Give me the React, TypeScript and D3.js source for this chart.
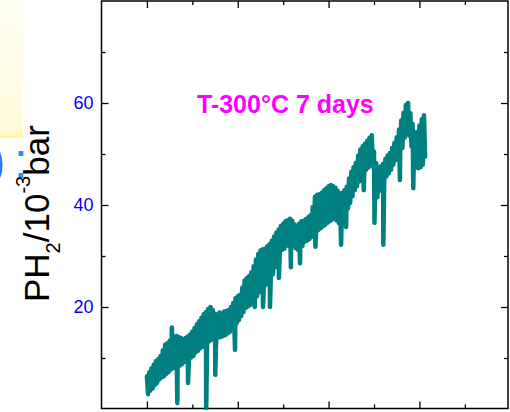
import { useEffect, useRef } from "react";
import * as d3 from "d3";

// time (days) and PH2 (10^-3 bar)
const days = [
  0.0, 0.025, 0.05, 0.075, 0.1, 0.125, 0.15, 0.175, 0.2, 0.225,
  0.25, 0.275, 0.3, 0.325, 0.35, 0.375, 0.4, 0.425, 0.45, 0.475,
  0.5, 0.525, 0.55, 0.575, 0.6, 0.625, 0.65, 0.67, 0.675, 0.7, 0.725,
  0.75, 0.775, 0.8, 0.825, 0.85, 0.875, 0.9, 0.905, 0.925, 0.95, 0.975,
  1.0, 1.025, 1.05, 1.075, 1.1, 1.125, 1.15, 1.175, 1.2, 1.225,
  1.25, 1.275, 1.3, 1.305, 1.325, 1.35, 1.375, 1.4, 1.425, 1.45, 1.475,
  1.5, 1.505, 1.525, 1.55, 1.575, 1.6, 1.625, 1.65, 1.675, 1.7, 1.725,
  1.75, 1.775, 1.8, 1.825, 1.85, 1.875, 1.9, 1.925, 1.94, 1.95, 1.975,
  2.0, 2.025, 2.05, 2.075, 2.1, 2.125, 2.15, 2.175, 2.2, 2.225,
  2.25, 2.275, 2.3, 2.325, 2.35, 2.375, 2.4, 2.425, 2.45, 2.475,
  2.5, 2.525, 2.55, 2.555, 2.575, 2.6, 2.625, 2.65, 2.675, 2.7, 2.71, 2.725,
  2.75, 2.775, 2.8, 2.825, 2.85, 2.875, 2.9, 2.905, 2.925, 2.95, 2.975,
  3.0, 3.025, 3.05, 3.075, 3.1, 3.125, 3.15, 3.17, 3.175, 3.2, 3.225,
  3.25, 3.275, 3.3, 3.325, 3.35, 3.37, 3.375, 3.4, 3.425, 3.45, 3.475,
  3.5, 3.525, 3.55, 3.575, 3.6, 3.625, 3.65, 3.675, 3.7, 3.71, 3.725,
  3.75, 3.775, 3.8, 3.825, 3.85, 3.875, 3.9, 3.925, 3.95, 3.975,
  4.0, 4.025, 4.05, 4.075, 4.1, 4.125, 4.15, 4.175, 4.2, 4.225,
  4.25, 4.275, 4.3, 4.325, 4.35, 4.375, 4.385, 4.4, 4.425, 4.45, 4.475,
  4.5, 4.525, 4.55, 4.575, 4.6, 4.625, 4.65, 4.675, 4.7, 4.725,
  4.75, 4.775, 4.8, 4.825, 4.85, 4.875, 4.9, 4.925, 4.95, 4.975,
  5.0, 5.01, 5.025, 5.05, 5.075, 5.1, 5.125, 5.15, 5.175, 5.2, 5.205, 5.225,
  5.25, 5.275, 5.3, 5.325, 5.35, 5.375, 5.4, 5.425, 5.45, 5.475,
  5.5, 5.525, 5.55, 5.57, 5.575, 5.6, 5.625, 5.65, 5.675, 5.7, 5.725,
  5.75, 5.775, 5.8, 5.825, 5.85, 5.865, 5.875, 5.9, 5.925, 5.95, 5.975,
  6.0, 6.025, 6.05, 6.075, 6.1, 6.125,
];
const ph2 = [
  6.4, 2.9, 7.2, 3.6, 8.0, 4.0, 8.7, 4.7, 9.4, 5.1,
  9.8, 5.8, 10.4, 6.2, 11.5, 6.4, 12.6, 6.9, 12.9, 7.2,
  13.4, 7.7, 16.0, 8.0, 14.0, 8.1, 14.3, 1.2, 8.3, 14.1, 8.5,
  13.9, 8.8, 13.6, 9.2, 13.9, 9.5, 14.2, 5.1, 9.7, 14.6, 10.1,
  15.2, 10.4, 15.9, 11.1, 16.6, 11.4, 17.2, 11.9, 17.9, 12.2,
  18.6, 12.4, 19.0, 0.2, 12.8, 19.6, 13.3, 20.0, 13.6, 19.4, 13.8,
  18.7, 6.7, 13.9, 18.5, 14.0, 18.9, 14.1, 18.7, 14.3, 19.1, 14.5,
  19.2, 14.8, 19.4, 15.1, 20.0, 15.6, 20.8, 16.1, 11.6, 21.7, 16.8,
  22.1, 17.4, 22.4, 18.2, 23.8, 19.0, 25.2, 19.8, 25.7, 20.1,
  26.1, 20.4, 26.8, 20.8, 28.0, 20.0, 29.3, 22.1, 30.4, 22.9,
  31.1, 23.4, 31.3, 20.0, 23.9, 31.4, 24.4, 31.9, 24.8, 32.3, 20.0, 25.5,
  33.0, 26.4, 33.8, 27.8, 34.6, 29.0, 35.2, 25.7, 30.6, 35.9, 31.2,
  36.3, 31.4, 36.8, 32.0, 37.0, 32.5, 37.3, 27.8, 32.8, 36.9, 32.2,
  36.2, 31.5, 35.4, 31.2, 36.3, 28.6, 31.3, 36.8, 32.0, 36.9, 32.8,
  37.2, 33.0, 37.6, 33.3, 38.0, 33.7, 39.6, 34.2, 41.6, 31.8, 34.8,
  42.0, 35.1, 42.1, 35.4, 42.4, 35.8, 42.9, 36.1, 43.3, 36.5,
  43.7, 36.8, 43.9, 37.1, 43.7, 37.4, 43.4, 37.0, 42.8, 36.5,
  42.2, 32.2, 42.4, 37.4, 42.9, 38.6, 35.7, 43.6, 39.3, 45.2, 40.4,
  46.5, 41.7, 47.4, 42.9, 48.3, 43.7, 49.7, 44.6, 50.9, 45.5,
  51.5, 42.9, 52.0, 46.9, 52.6, 47.3, 53.2, 47.9, 53.7, 47.5,
  50.5, 36.5, 44.2, 48.2, 41.5, 47.0, 42.8, 47.6, 43.7, 48.1, 32.2, 44.9,
  49.0, 45.6, 49.7, 46.2, 50.2, 46.9, 51.2, 47.9, 52.2, 48.8,
  53.3, 49.2, 54.8, 44.9, 49.8, 56.6, 51.2, 58.1, 53.2, 59.6, 54.2,
  60.0, 53.6, 58.0, 51.5, 55.9, 43.3, 48.8, 54.2, 47.4, 54.3, 47.2,
  55.6, 47.4, 56.8, 47.9, 57.6, 49.5,
];

const yMajorTicks = [20, 40, 60];
const yMinorTicks = [10, 30, 50, 70];
const xMajorTicks = [0, 2, 4, 6];
const xMinorTicks = [1, 3, 5, 7];
const title = "T-300°C 7 days";

const FONT = "Arial, 'Liberation Sans', sans-serif";

export default function App() {
  const svgRef = useRef<SVGSVGElement>(null);

  useEffect(() => {
    const width = 510;
    const height = 412;
    const svg = d3.select(svgRef.current);
    svg.selectAll("*").remove();

    const left = 101.5;
    const right = 508;
    const top = 1;
    const bottom = 408.5;

    const x = d3.scaleLinear().domain([-1, 7.95]).range([left, right]);
    const y = d3.scaleLinear().domain([0, 80]).range([409, top]);

    // pale yellow box cut off at the left edge
    const grad = svg
      .append("defs")
      .append("linearGradient")
      .attr("id", "boxfill")
      .attr("x1", 0)
      .attr("y1", 0)
      .attr("x2", 0)
      .attr("y2", 1);
    grad.append("stop").attr("offset", "0%").attr("stop-color", "#fffff2");
    grad.append("stop").attr("offset", "94%").attr("stop-color", "#fffbdc");
    grad.append("stop").attr("offset", "100%").attr("stop-color", "#fff7a0");
    svg.append("rect").attr("x", 0).attr("y", 0).attr("width", 23).attr("height", 138).attr("fill", "url(#boxfill)");

    svg
      .append("text")
      .attr("x", -11)
      .attr("y", 178)
      .style("font-family", FONT)
      .style("font-size", "50px")
      .attr("fill", "#2a7aff")
      .text(")");
    svg
      .append("text")
      .attr("x", 14)
      .attr("y", 178)
      .style("font-family", FONT)
      .style("font-size", "50px")
      .attr("fill", "#1e90ff")
      .text(":");

    // axes, ticks pointing inward
    const addAxis = (axis: any, transform: string, labels: boolean) => {
      const g = svg.append("g").attr("transform", transform).call(axis);
      g.select(".domain").remove();
      g.selectAll("line").attr("stroke", "#000").attr("stroke-width", 1.3);
      if (!labels) g.selectAll("text").remove();
      return g;
    };

    const yl = addAxis(
      d3.axisLeft(y).tickValues(yMajorTicks).tickSizeInner(-7).tickSizeOuter(0).tickPadding(8),
      `translate(${left},0)`,
      true
    );
    yl.selectAll("text").style("font-family", FONT).style("font-size", "18px").attr("fill", "#0000ff");
    addAxis(d3.axisLeft(y).tickValues(yMinorTicks).tickSizeInner(-4).tickSizeOuter(0), `translate(${left},0)`, false);
    addAxis(d3.axisRight(y).tickValues(yMajorTicks).tickSizeInner(-7).tickSizeOuter(0), `translate(${right},0)`, false);
    addAxis(d3.axisRight(y).tickValues(yMinorTicks).tickSizeInner(-4).tickSizeOuter(0), `translate(${right},0)`, false);
    addAxis(d3.axisBottom(x).tickValues(xMajorTicks).tickSizeInner(-7).tickSizeOuter(0), `translate(0,${bottom})`, false);
    addAxis(d3.axisBottom(x).tickValues(xMinorTicks).tickSizeInner(-4).tickSizeOuter(0), `translate(0,${bottom})`, false);
    addAxis(d3.axisTop(x).tickValues(xMajorTicks).tickSizeInner(-7).tickSizeOuter(0), `translate(0,${top})`, false);
    addAxis(d3.axisTop(x).tickValues(xMinorTicks).tickSizeInner(-4).tickSizeOuter(0), `translate(0,${top})`, false);

    svg
      .append("rect")
      .attr("x", left)
      .attr("y", top)
      .attr("width", right - left)
      .attr("height", bottom - top)
      .attr("fill", "none")
      .attr("stroke", "#000")
      .attr("stroke-width", 1.5);

    // the trace
    const line = d3
      .line<number>()
      .x((d, i) => x(days[i]))
      .y((d) => y(d));

    svg
      .append("path")
      .datum(ph2)
      .attr("d", line)
      .attr("fill", "none")
      .attr("stroke", "#008080")
      .attr("stroke-width", 4.5)
      .attr("stroke-linejoin", "round")
      .attr("stroke-linecap", "round");

    // title
    svg
      .append("text")
      .attr("x", 197)
      .attr("y", 113)
      .style("font-family", FONT)
      .style("font-size", "25px")
      .style("font-weight", "bold")
      .attr("fill", "#ff00ff")
      .text(title);

    // y label PH2/10^-3 bar
    const yLabel = svg
      .append("text")
      .attr("transform", "translate(49,302) rotate(-90)")
      .style("font-family", FONT)
      .style("font-size", "35px")
      .attr("fill", "#000");
    yLabel.append("tspan").text("PH");
    yLabel.append("tspan").attr("dy", 11).style("font-size", "20px").text("2");
    yLabel.append("tspan").attr("dy", -11).text("/10");
    yLabel.append("tspan").attr("dy", -19).style("font-size", "20px").text("-3");
    yLabel.append("tspan").attr("dy", 19).text("bar");

    svg.attr("width", width).attr("height", height);
  }, []);

  return (
    <div style={{ position: "absolute", left: 0, top: 0 }}>
      <svg ref={svgRef} width={510} height={412} style={{ display: "block" }}></svg>
    </div>
  );
}
